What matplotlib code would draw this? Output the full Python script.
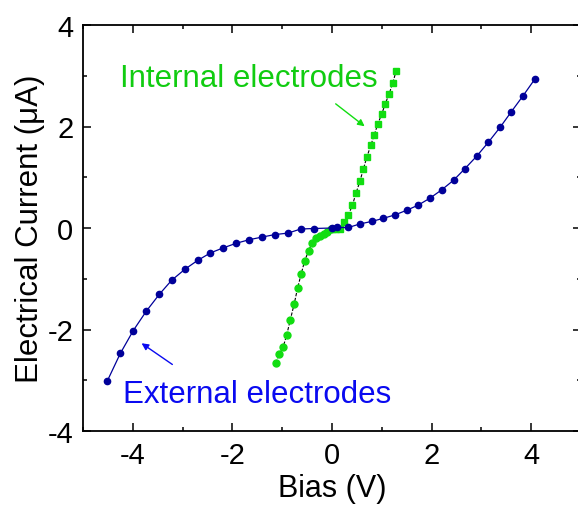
import matplotlib
matplotlib.use('Agg')
import matplotlib.pyplot as plt
from matplotlib.ticker import MultipleLocator

plt.rcParams['font.family'] = ['Liberation Sans', 'DejaVu Sans']
plt.rcParams['axes.unicode_minus'] = False

# external electrodes (blue circles)
ext_v = [-4.51, -4.25, -3.99, -3.73, -3.47, -3.22, -2.95, -2.70, -2.44, -2.18,
         -1.92, -1.66, -1.41, -1.15, -0.88, -0.63, -0.37, 0.0, 0.11,
         0.33, 0.56, 0.80, 1.03, 1.27, 1.50, 1.73, 1.97, 2.20, 2.44,
         2.67, 2.91, 3.14, 3.38, 3.60, 3.84, 4.07]
ext_i = [-3.01, -2.47, -2.02, -1.64, -1.31, -1.03, -0.81, -0.64, -0.49, -0.39,
         -0.30, -0.23, -0.18, -0.13, -0.10, -0.02, -0.01, 0.0, 0.01,
         0.01, 0.08, 0.13, 0.19, 0.26, 0.35, 0.45, 0.59, 0.75, 0.94,
         1.17, 1.42, 1.69, 1.99, 2.29, 2.61, 2.93]

# internal electrodes, negative sweep (green circles)
int_neg_v = [-1.13, -1.06, -0.98, -0.91, -0.84, -0.76, -0.69, -0.62, -0.55, -0.47,
             -0.40, -0.33, -0.25, -0.17, -0.10, -0.03]
int_neg_i = [-2.66, -2.48, -2.34, -2.11, -1.82, -1.50, -1.18, -0.91, -0.65, -0.45,
             -0.29, -0.20, -0.15, -0.11, -0.08, -0.02]

# internal electrodes, positive sweep (green squares)
int_pos_v = [0.02, 0.09, 0.16, 0.25, 0.33, 0.41, 0.48, 0.56, 0.63, 0.70, 0.78,
             0.85, 0.92, 1.00, 1.07, 1.15, 1.22, 1.29]
int_pos_i = [-0.01, -0.01, -0.02, 0.11, 0.26, 0.45, 0.68, 0.92, 1.16, 1.40, 1.63,
             1.84, 2.05, 2.25, 2.45, 2.65, 2.86, 3.10]

blue = '#000099'
green = '#11dd11'

fig = plt.figure(figsize=(5.78, 5.06), dpi=100)
ax = fig.add_axes([83 / 578, 74 / 506, 498 / 578, 406 / 506])

ax.plot(int_neg_v + int_pos_v, int_neg_i + int_pos_i, color='black', lw=0.8,
        ls=(0, (3, 1.5)), zorder=2)
ax.plot(int_neg_v, int_neg_i, 'o', color=green, ms=5, mec=green, zorder=3)
ax.plot(int_pos_v, int_pos_i, 's', color=green, ms=4.2, mec=green, zorder=3)
ax.plot(ext_v, ext_i, '-o', color=blue, lw=0.9, ms=4.5, mec=blue, zorder=4)

ax.text(-4.26, 2.79, 'Internal electrodes', color='#11cc11', fontsize=22.5)
ax.text(-4.20, -3.43, 'External electrodes', color='#0a0af0', fontsize=22.5)
ax.annotate('', xy=(0.70, 1.97), xytext=(0.03, 2.48),
            arrowprops=dict(arrowstyle='-|>', color='#11dd11', lw=1, mutation_scale=10))
ax.annotate('', xy=(-3.87, -2.24), xytext=(-3.16, -2.72),
            arrowprops=dict(arrowstyle='-|>', color='#0a0af0', lw=1, mutation_scale=10))

ax.set_xlim(-5, 5)
ax.set_ylim(-4, 4)
ax.xaxis.set_major_locator(MultipleLocator(2))
ax.xaxis.set_minor_locator(MultipleLocator(1))
ax.yaxis.set_major_locator(MultipleLocator(2))
ax.yaxis.set_minor_locator(MultipleLocator(1))
ax.tick_params(which='both', direction='in', top=True, right=True, width=1.1, labelsize=21)
ax.tick_params(axis='x', pad=7)
ax.tick_params(axis='y', pad=7)
ax.tick_params(which='major', length=6)
ax.tick_params(which='minor', length=3)
for s in ax.spines.values():
    s.set_linewidth(1.3)

ax.set_xlabel('Bias (V)', fontsize=22, labelpad=3)
ax.set_ylabel('Electrical Current (\u03bcA)', fontsize=22.5, labelpad=2)

fig.savefig('out.png', dpi=100)
